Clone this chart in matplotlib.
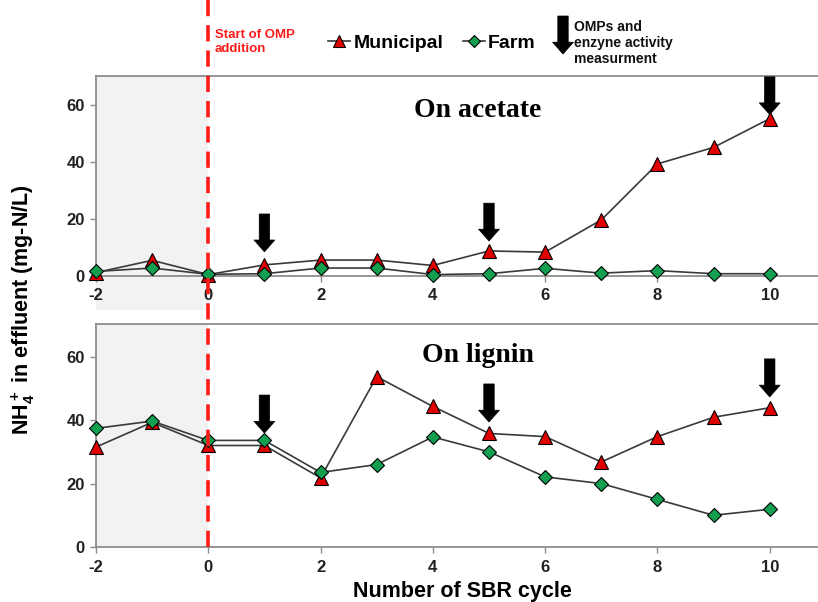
import matplotlib
matplotlib.use("Agg")
import matplotlib.pyplot as plt
from matplotlib.lines import Line2D
from matplotlib.patches import FancyArrowPatch
import matplotlib.transforms as mtransforms

cycles = [-2, -1, 0, 1, 2, 3, 4, 5, 6, 7, 8, 9, 10]
acetate_municipal = [1.2, 5.5, 0.5, 3.9, 5.6, 5.6, 3.7, 8.8, 8.4, 19.7, 39.4, 45.2, 55.3]
acetate_farm = [1.6, 2.8, 0.6, 0.8, 2.8, 2.8, 0.5, 0.8, 2.7, 1.0, 1.9, 0.8, 0.8]
lignin_municipal = [31.5, 39.3, 32.0, 32.0, 21.8, 53.7, 44.3, 35.8, 34.8, 26.8, 34.8, 40.9, 43.9]
lignin_farm = [37.4, 39.7, 33.6, 33.6, 23.5, 26.0, 34.7, 30.0, 22.1, 20.0, 15.0, 10.0, 11.9]
x_ticks = [-2, 0, 2, 4, 6, 8, 10]
y_ticks = [0, 20, 40, 60]
arrow_cycles = [1, 5, 10]
acetate_arrow_tops = [21.8, 25.6, 70.0]
lignin_arrow_tops = [47.9, 51.4, 59.3]
arrow_len_top = 13.3
arrow_len_bot = 12.0

plt.rcParams['font.family'] = ['Liberation Sans', 'DejaVu Sans']
plt.rcParams['font.weight'] = 'bold'
plt.rcParams['mathtext.default'] = 'regular'

W, H = 818, 602
fig = plt.figure(figsize=(W / 100, H / 100), dpi=100)

left = 96 / W
right = 1.0
ax1 = fig.add_axes([left, 1 - 276 / H, right - left, 200 / H])
ax2 = fig.add_axes([left, 1 - 547 / H, right - left, 223 / H])

spine_col = '#8c8c8c'
line_col = '#3a3a3a'
mun_col = '#e00000'
farm_col = '#12a050'
arrow_style = 'simple,head_width=1.5,head_length=0.85,tail_width=0.75'

def style(ax, mun, farm, label, label_y, arrow_tops, alen, span_below):
    ax.set_xlim(-2, 10.86)
    ax.set_ylim(0, 70.3)
    ax.axvspan(-2, 0, ymin=-span_below, ymax=1, color='#f2f2f2', zorder=0, lw=0, clip_on=False)
    ax.plot(cycles, mun, color=line_col, lw=1.2, marker='^', ms=10,
            mfc=mun_col, mec='black', mew=0.8, zorder=3, clip_on=False)
    ax.plot(cycles, farm, color=line_col, lw=1.2, marker='D', ms=7,
            mfc=farm_col, mec='black', mew=0.8, zorder=4, clip_on=False)
    for s in ['top', 'left', 'bottom']:
        ax.spines[s].set_color(spine_col)
        ax.spines[s].set_linewidth(1.3)
    ax.spines['right'].set_visible(False)
    ax.set_xticks(x_ticks)
    ax.set_xticklabels([str(v) for v in x_ticks], fontsize=12, fontweight='bold', color='#222222')
    ax.set_yticks(y_ticks)
    ax.set_yticklabels([str(v) for v in y_ticks], fontsize=12, fontweight='bold', color='#222222')
    ax.tick_params(axis='both', direction='out', length=4, color=spine_col, width=1)
    ax.tick_params(axis='x', pad=5)
    ax.tick_params(axis='y', pad=4)
    ax.text(4.8, label_y, label, fontsize=20, fontweight='bold',
            family=['Liberation Serif', 'DejaVu Serif'], ha='center', va='center')
    for xc, yt in zip(arrow_cycles, arrow_tops):
        ax.annotate('', xy=(xc, yt - alen), xytext=(xc, yt),
                    arrowprops=dict(arrowstyle=arrow_style,
                                    fc='black', ec='black', lw=0.5, shrinkA=0, shrinkB=0),
                    annotation_clip=False, zorder=5)

style(ax1, acetate_municipal, acetate_farm, 'On acetate', 58.0, acetate_arrow_tops, arrow_len_top, 0.17)
style(ax2, lignin_municipal, lignin_farm, 'On lignin', 60.5, lignin_arrow_tops, arrow_len_bot, 0.0)

# red dashed start line spanning the figure
blend = mtransforms.blended_transform_factory(ax1.transData, fig.transFigure)
fig.add_artist(Line2D([0, 0], [1 - 547 / H, 1.0], transform=blend, color='#ff1a1a',
                      lw=2.6, dashes=(4.5, 2.5)))
fig.text(215 / W, 1 - 42 / H, 'Start of OMP\naddition', color='#ff1a1a', fontsize=9.5,
         fontweight='bold', ha='left', va='center', linespacing=1.3)

# legend
h_mun = Line2D([], [], color=line_col, lw=1.2, marker='^', ms=9, mfc=mun_col, mec='black', mew=0.8)
h_farm = Line2D([], [], color=line_col, lw=1.2, marker='D', ms=6.5, mfc=farm_col, mec='black', mew=0.8)
fig.legend([h_mun, h_farm], ['Municipal', 'Farm'], loc='center left',
           bbox_to_anchor=(328 / W, 1 - 43 / H), ncol=2, frameon=False,
           prop={'size': 14, 'weight': 'bold'}, handlelength=1.15, handletextpad=0.15,
           columnspacing=1.0, borderaxespad=0, borderpad=0)
fig.add_artist(FancyArrowPatch(
    (563 / W, 1 - 16 / H), (563 / W, 1 - 54 / H), transform=fig.transFigure,
    arrowstyle=arrow_style, fc='black', ec='black', lw=0.5, mutation_scale=10,
    shrinkA=0, shrinkB=0))
fig.text(574 / W, 1 - 43 / H, 'OMPs and\nenzyne activity\nmeasurment', fontsize=10,
         fontweight='bold', ha='left', va='center', linespacing=1.2, color='#111111')

fig.text(23 / W, 1 - 310 / H, 'NH$_4^+$ in effluent (mg-N/L)', rotation=90,
         fontsize=15.5, fontweight='bold', ha='center', va='center')
fig.text(462 / W, 1 - 591 / H, 'Number of SBR cycle', fontsize=15.5, fontweight='bold',
         ha='center', va='center')

fig.savefig('out.png', dpi=100)
